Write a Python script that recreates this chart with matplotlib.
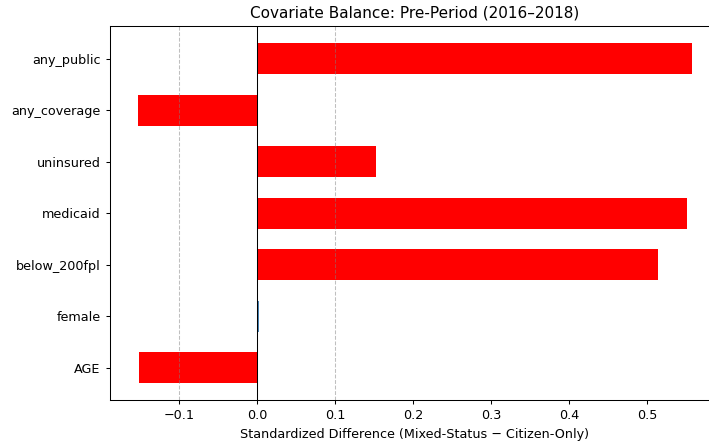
import matplotlib
matplotlib.use("Agg")
import matplotlib.pyplot as plt

covariates = ["AGE", "female", "below_200fpl", "medicaid", "uninsured", "any_coverage", "any_public"]
std_diff = [-0.151, 0.002, 0.514, 0.550, 0.152, -0.153, 0.557]

colors = ["red" if abs(d) >= 0.1 else "steelblue" for d in std_diff]

plt.rcParams.update({
    "font.size": 9.2,
    "axes.titlesize": 11,
    "axes.labelsize": 9.2,
    "xtick.labelsize": 9.2,
    "ytick.labelsize": 9.2,
    "axes.linewidth": 0.75,
    "xtick.major.width": 0.75,
    "ytick.major.width": 0.75,
    "xtick.major.size": 3.2,
    "ytick.major.size": 3.2,
})

fig = plt.figure(figsize=(7.09, 4.44), dpi=100)
ax = fig.add_axes([0.1551, 0.099, 0.86, 0.842])

ax.barh(covariates, std_diff, height=0.6, color=colors)
ax.axvline(0, color="black", linewidth=0.75)
ax.axvline(0.1, color="gray", linestyle="--", linewidth=0.75, alpha=0.5)
ax.axvline(-0.1, color="gray", linestyle="--", linewidth=0.75, alpha=0.5)

ax.set_xlabel("Standardized Difference (Mixed-Status \u2212 Citizen-Only)")
ax.set_title("Covariate Balance: Pre-Period (2016\u20132018)")

fig.savefig("out.png", dpi=100)
